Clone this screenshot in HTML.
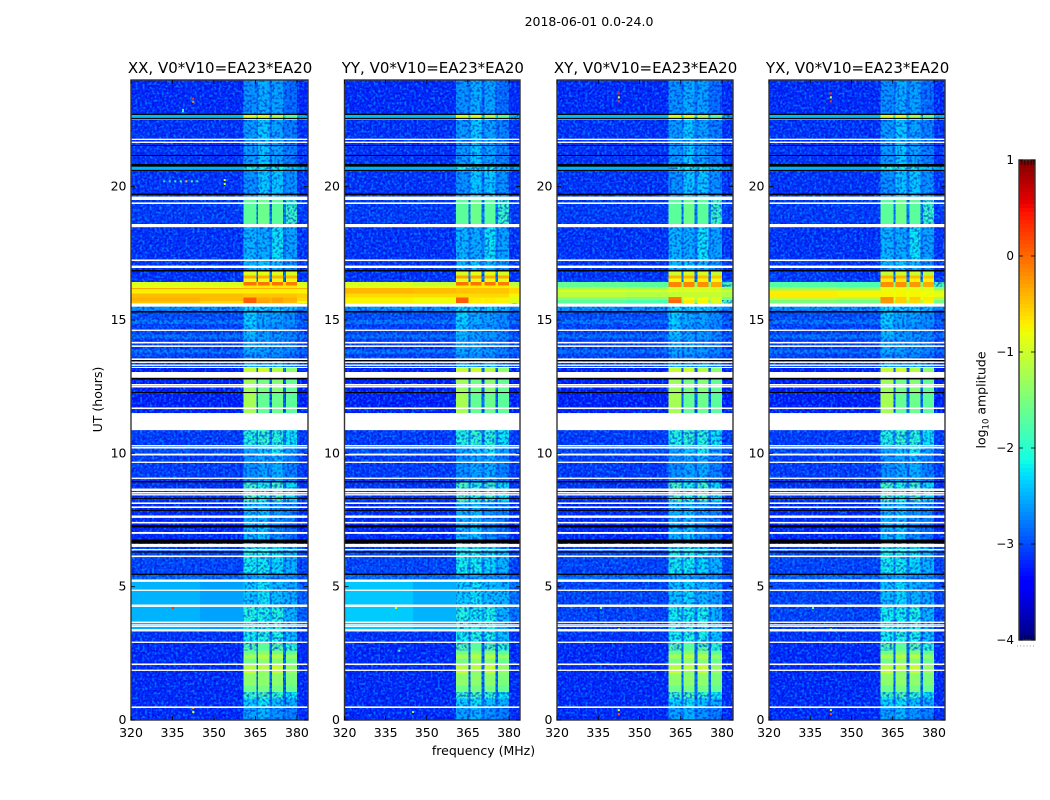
<!DOCTYPE html>
<html lang="en">
<head>
<meta charset="utf-8">
<title>2018-06-01 0.0-24.0</title>
<style>
html,body{margin:0;padding:0;background:#fff;width:1050px;height:800px;overflow:hidden}
svg{display:block}
text{font-family:"DejaVu Sans","Liberation Sans",sans-serif;fill:#000}
</style>
</head>
<body>
<svg id="chart" xmlns="http://www.w3.org/2000/svg" width="1050" height="800" viewBox="0 0 1050 800">
  <defs>
    <filter id="speckle-light" x="0" y="0" width="100%" height="100%" color-interpolation-filters="sRGB">
      <feTurbulence type="fractalNoise" baseFrequency="0.42" numOctaves="1" seed="4"/>
      <feColorMatrix type="matrix" values="0 0 0 0 0  0 0 0 0 0.68  0 0 0 0 1  4.5 0 0 0 -2.1"/>
    </filter>
    <filter id="speckle-dark" x="0" y="0" width="100%" height="100%" color-interpolation-filters="sRGB">
      <feTurbulence type="fractalNoise" baseFrequency="0.4" numOctaves="1" seed="11"/>
      <feColorMatrix type="matrix" values="0 0 0 0 0  0 0 0 0 0  0 0 0 0 0.8  5 0 0 0 -2.3"/>
    </filter>
  </defs>
  <text x="589" y="26" font-size="12.5" text-anchor="middle">2018-06-01 0.0-24.0</text>
  <text x="483.5" y="755" font-size="12.5" text-anchor="middle">frequency (MHz)</text>
  <text x="102" y="399.5" font-size="12.5" text-anchor="middle" transform="rotate(-90 102 399.5)">UT (hours)</text>
  <text x="985.5" y="400" font-size="12.5" text-anchor="middle" transform="rotate(-90 985.5 400)">log<tspan font-size="8.5" dy="3">10</tspan><tspan dy="-3"> amplitude</tspan></text>
  <g id="panels"></g>
  <g id="colorbar"></g>
</svg>
<script>
// Axis extents
const freqDomain = [320, 384];
const hourDomain = [0, 24];
const levelDomain = [-4, 1];

// Tick labels
const freqTicks = [320, 335, 350, 365, 380];
const hourTicks = [0, 5, 10, 15, 20];
const levelTicks = [1, 0, -1, -2, -3, -4];

// Panels
const panelTitles = ["XX, V0*V10=EA23*EA20", "YY, V0*V10=EA23*EA20", "XY, V0*V10=EA23*EA20", "YX, V0*V10=EA23*EA20"];

// Frequency columns in MHz: low-a, mid, band1, gap, band2, gap, band3, gap, band4, high
const columnEdges = [320, 345, 360.6, 365.3, 366, 370, 371, 375, 376, 380, 384];

// Rows common to all polarisations: [startHour, endHour, low, mid, band1, band2, band3, band4, high] in log10 amplitude
const sharedRows = [
  [0,0.5,-3.2,-3.2,-2.55,-2.45,-2.65,-2.75,-3.2],
  [0.5,0.8,-3.2,-3.2,-2.3,-2.2,-2.4,-2.5,-3.2],
  [0.8,1.05,-3.2,-3.2,-1.9,-1.8,-1.95,-2.2,-3.2],
  [1.05,1.3,-3.2,-3.2,-1.6,-1.55,-1.55,-1.65,-3.2],
  [1.3,1.75,-3.2,-3.2,-1.4,-1.4,-1.4,-1.5,-3.2],
  [1.75,1.85,-3.2,-3.2,-1.05,-1.35,-1.1,-1.35,-3.2],
  [1.85,2.1,-3.2,-3.2,-1.15,-1.15,-1.05,-1.35,-3.2],
  [2.1,2.3,-3.2,-3.2,-1.55,-1.4,-1.45,-1.6,-3.2],
  [2.3,2.45,-3.2,-3.2,-1.25,-1.15,-1.15,-1.35,-3.2],
  [2.45,2.6,-3.2,-3.2,-1.6,-1.45,-1.5,-1.7,-3.2],
  [2.6,2.9,-3.2,-3.2,-1.75,-1.7,-1.75,-2,-3.2],
  [2.9,3.4,-3.15,-3.15,-2.15,-2.05,-2.1,-2.4,-3.15],
  [3.4,4.3,-3.05,-3.05,-2.15,-2.15,-2.1,-2.45,-3.05],
  [4.3,5.2,-3.05,-3.05,-2.4,-2.25,-2.45,-2.55,-3.05],
  [5.2,5.5,-2.85,-2.85,-2.6,-2.55,-2.65,-2.7,-2.95],
  [5.5,6.5,-3.05,-3.05,-2.15,-2.15,-2.25,-2.45,-3.05],
  [6.5,7.4,-3.2,-3.2,-2.45,-2.35,-2.65,-2.85,-3.2],
  [7.4,8.2,-3.2,-3.2,-2.5,-2.45,-2.65,-2.75,-3.2],
  [8.2,8.9,-3.15,-3.15,-1.85,-2.1,-1.9,-2.25,-3.15],
  [8.9,9.9,-3.1,-3.1,-2.65,-2.55,-2.5,-2.75,-3.1],
  [9.9,10.3,-3,-3,-2.55,-2.35,-2.15,-2.55,-3],
  [10.3,10.9,-3.1,-3.1,-2.05,-1.95,-2,-2.2,-3.1],
  [10.9,12.3,-3.25,-3.25,-1.25,-1.65,-1.6,-1.7,-3.25],
  [12.3,12.8,-3.25,-3.25,-1.3,-1.55,-1.45,-1.65,-3.25],
  [12.8,13.2,-3.25,-3.25,-1.05,-1,-1.15,-1.4,-3.25],
  [13.2,13.5,-3.05,-3.05,-2.45,-2.55,-2.45,-2.75,-3.05],
  [13.5,13.75,-3.05,-3.05,-2.65,-2.65,-2.7,-2.85,-3.05],
  [13.75,13.9,-2.8,-2.8,-2.5,-2.55,-2.6,-2.7,-2.85],
  [13.9,14.3,-3.1,-3.1,-2.55,-2.6,-2.7,-2.8,-3.1],
  [14.3,14.45,-2.8,-2.8,-2.45,-2.55,-2.6,-2.7,-2.85],
  [14.45,14.85,-3.05,-3.05,-2.4,-2.6,-2.65,-2.75,-3.05],
  [14.85,15,-2.8,-2.8,-2.3,-2.5,-2.55,-2.65,-2.85],
  [15,15.3,-3,-3,-2.3,-2.5,-2.55,-2.7,-3],
  [15.3,15.5,-2.65,-2.65,-2.25,-2.3,-2.3,-2.45,-2.7],
  [16.85,17.2,-3.15,-3.15,-2.45,-2.35,-2.45,-2.65,-3.15],
  [17.2,18.5,-3.15,-3.15,-2.45,-2.5,-2.2,-2.55,-3.15],
  [18.5,19.6,-3.1,-3.1,-1.7,-1.6,-1.7,-1.9,-3.1],
  [19.6,20.6,-3.15,-3.15,-2.65,-2.35,-2.35,-2.65,-3.15],
  [20.6,20.85,-2.5,-2.5,-2.1,-2.15,-2.15,-2.35,-2.5],
  [20.85,22.5,-3.15,-3.15,-2.6,-2.35,-2.55,-2.75,-3.15],
  [22.5,22.75,-2.45,-2.45,-1,-0.95,-1.25,-1.7,-2.45],
  [22.75,24,-3.2,-3.2,-2.65,-2.5,-2.55,-2.85,-3.2]
];

// Rows that differ per polarisation, same layout
const xxRows = [
  [3.4,4.3,-2.5,-2.58,-2.05,-2.1,-2.05,-2.45,-2.9],
  [4.3,5.2,-2.5,-2.58,-2.35,-2.2,-2.4,-2.5,-2.9],
  [15.5,15.64,-1.6,-1.7,-1.5,-1.5,-1.5,-1.6,-1.8],
  [15.64,15.72,-0.5,-0.6,0.05,-0.3,-0.35,-0.45,-0.8],
  [15.72,15.85,-0.4,-0.45,0.05,-0.35,-0.3,-0.4,-0.6],
  [15.85,16,-0.45,-0.45,-0.5,-0.5,-0.5,-0.5,-0.55],
  [16,16.16,-0.72,-0.72,-0.72,-0.7,-0.72,-0.72,-0.75],
  [16.16,16.2,-0.35,-0.35,-0.4,-0.4,-0.4,-0.4,-0.4],
  [16.2,16.3,-0.85,-0.85,-0.7,-0.7,-0.7,-0.7,-0.85],
  [16.3,16.43,-0.9,-0.95,-0.05,-0.05,-0.05,-0.1,-0.95],
  [16.43,16.55,-3.15,-3.15,-0.85,-0.85,-0.85,-0.85,-3.15],
  [16.55,16.67,-3.15,-3.15,-0.35,-0.35,-0.4,-0.4,-3.15],
  [16.67,16.85,-3.15,-3.15,-0.9,-0.85,-0.9,-0.95,-3.15]
];
const yyRows = [
  [3.4,4.3,-2.38,-2.5,-2.05,-2.15,-2.1,-2.45,-2.8],
  [4.3,5.2,-2.4,-2.52,-2.3,-2.2,-2.4,-2.45,-2.8],
  [15.5,15.64,-1.6,-1.7,-1.3,-1.4,-1.4,-1.5,-1.8],
  [15.64,15.85,-0.75,-0.8,0.05,-0.7,-0.7,-0.75,-0.9],
  [15.85,16,-0.6,-0.6,-0.6,-0.6,-0.6,-0.6,-0.75],
  [16,16.2,-0.42,-0.45,-0.5,-0.5,-0.5,-0.5,-0.6],
  [16.2,16.3,-0.88,-0.9,-0.7,-0.7,-0.7,-0.7,-0.95],
  [16.3,16.43,-0.95,-1.05,-0.05,-0.05,-0.05,-0.1,-1.1],
  [16.43,16.55,-3.15,-3.15,-0.9,-0.85,-0.85,-0.9,-3.15],
  [16.55,16.67,-3.15,-3.15,-0.3,-0.3,-0.35,-0.35,-3.15],
  [16.67,16.85,-3.15,-3.15,-0.95,-0.85,-0.85,-0.95,-3.15]
];
const xyRows = [
  [15.5,15.64,-2.1,-2.2,-1.7,-1.7,-1.7,-1.8,-2.2],
  [15.64,15.75,-1.7,-1.8,0,-0.7,-0.75,-0.9,-1.8],
  [15.75,15.86,-1.4,-1.45,-0.1,-0.8,-0.8,-0.95,-1.5],
  [15.86,16.05,-1.1,-1.15,-1.05,-1.05,-1.05,-1.05,-1.2],
  [16.05,16.13,-0.95,-0.95,-0.9,-0.9,-0.9,-0.9,-1],
  [16.13,16.24,-1.25,-1.3,-1,-1,-1,-1,-1.35],
  [16.24,16.43,-1.65,-1.7,-0.15,-0.15,-0.2,-0.35,-1.75],
  [16.43,16.55,-3.1,-3.1,-0.8,-0.75,-0.75,-0.8,-3.1],
  [16.55,16.67,-3.15,-3.15,-0.4,-0.4,-0.45,-0.5,-3.15],
  [16.67,16.85,-3.15,-3.15,-1,-0.95,-0.95,-1.05,-3.15]
];
const yxRows = [
  [15.5,15.62,-2,-2.1,-1.5,-1.5,-1.5,-1.6,-2.1],
  [15.62,15.75,-1.5,-1.55,-0.25,-0.55,-0.6,-0.75,-1.55],
  [15.75,15.86,-1.1,-1.15,-0.2,-0.55,-0.55,-0.7,-1.2],
  [15.86,16.1,-0.7,-0.75,-0.75,-0.75,-0.75,-0.8,-0.85],
  [16.1,16.24,-1.3,-1.35,-0.85,-0.85,-0.85,-0.9,-1.4],
  [16.24,16.43,-1.75,-1.8,-0.2,-0.2,-0.25,-0.35,-1.8],
  [16.43,16.55,-3.1,-3.1,-0.7,-0.7,-0.75,-0.75,-3.1],
  [16.55,16.67,-3.1,-3.15,-0.4,-0.4,-0.45,-0.5,-3.15],
  [16.67,16.85,-3.1,-3.15,-1.05,-1,-1,-1.1,-3.15]
];

// Flagged time ranges (hours) shared by every panel
const whiteFlags = [
  [21.75,21.8],[21.64,21.69],[19.5,19.63],[19.35,19.41],[18.48,18.6],[17.21,17.27],[16.95,17.04],
  [15.5,15.62],[14.59,14.64],[14.12,14.18],[13.99,14.05],[13.5,13.56],[13.39,13.44],[13.28,13.33],
  [13.2,13.24],[12.83,13.05],[12.54,12.6],[12.47,12.53],[11.66,11.72],[10.87,11.51],[10.26,10.31],
  [10.18,10.24],[9.92,9.99],[9.64,9.69],[9.04,9.09],[8.59,8.68],[8.49,8.55],[8.42,8.47],[8.1,8.16],
  [7.95,8.01],[7.58,7.67],[7.37,7.43],[6.98,7.05],[6.49,6.6],[6.36,6.41],[6.11,6.17],[5.18,5.27],
  [4.84,4.89],[4.24,4.33],[3.64,3.69],[3.54,3.59],[3.49,3.53],[3.32,3.41],[2.89,2.94],[2.06,2.12],
  [1.84,1.89],[0.45,0.51]
];
const blackFlags = [
  [22.69,22.74],[22.54,22.58],[21.53,21.56],[21.15,21.19],[20.75,20.85],[20.59,20.63],[19.69,19.74],
  [16.82,16.88],[15.28,15.34],[13.46,13.5],[12.77,12.83],[12.26,12.3],[8.91,8.96],[8.29,8.33],
  [7.84,7.88],[7.22,7.31],[6.64,6.77],[6.28,6.32],[5.44,5.49]
];

// Isolated bright samples per panel: [freqMHz, hour, level]
const xxSpots = [[338.8,22.88,-2],[338.8,22.83,-1.9],[342.5,23.3,0.2],[342.5,23.18,-0.2],[353.9,20.25,-1],[353.9,20.1,-1],[335.2,4.2,0.3],[353.7,3.33,0.2],[342.5,0.3,-0.9],[342.5,0.45,-0.3],[332,20.2,-2.2],[334,20.2,-2.1],[336,20.2,-1.9],[338,20.2,-1.6],[340,20.2,-0.4],[342,20.2,-1.7],[344,20.2,-2.1]];
const yySpots = [[338.8,4.2,-1],[342.5,3.35,-1.4],[340,2.6,-1.6],[345,0.3,-1.4]];
const xySpots = [[342.5,23.5,0.4],[342.5,23.35,-0.9],[342.5,23.2,0.2],[342.5,0.37,-0.9],[342.5,0.22,0.1],[336,4.2,-1.8],[342.5,3.4,-0.9]];
const yxSpots = [[342.5,23.5,0.3],[342.5,23.35,-0.9],[342.5,23.2,0.2],[342.5,0.37,-0.9],[342.5,0.22,0.1],[336,4.2,-1.8],[342.5,3.4,-0.9]];

const panelRows = [xxRows, yyRows, xyRows, yxRows];
const panelSpots = [xxSpots, yySpots, xySpots, yxSpots];
const panelBoxes = [[131,308],[344.5,520],[557,733],[769,945]];
const plotTop = 80, plotBottom = 720;
const colorbarBox = [1019, 1035, 160, 640];
const NS = "http://www.w3.org/2000/svg";

function mk(tag, attrs, parent){
  const n = document.createElementNS(NS, tag);
  for (const k in attrs) n.setAttribute(k, attrs[k]);
  if (parent) parent.appendChild(n);
  return n;
}
function yOfHour(h){ return plotBottom - (h - hourDomain[0]) / (hourDomain[1] - hourDomain[0]) * (plotBottom - plotTop); }
function xOfFreq(f, box){ return box[0] + (f - freqDomain[0]) / (freqDomain[1] - freqDomain[0]) * (box[1] - box[0]); }
function yOfLevel(v){ return colorbarBox[2] + (levelDomain[1] - v) / (levelDomain[1] - levelDomain[0]) * (colorbarBox[3] - colorbarBox[2]); }
function ramp(t, pts){
  for (let i = 1; i < pts.length; i++) {
    if (t <= pts[i][0]) {
      const a = pts[i-1], b = pts[i];
      return a[1] + (b[1]-a[1]) * (t-a[0]) / (b[0]-a[0]);
    }
  }
  return pts[pts.length-1][1];
}
function jet(v){
  const t = Math.max(0, Math.min(1, (v - levelDomain[0]) / (levelDomain[1] - levelDomain[0])));
  const r = ramp(t, [[0,0],[0.35,0],[0.66,1],[0.89,1],[1,0.5]]);
  const g = ramp(t, [[0,0],[0.125,0],[0.375,1],[0.64,1],[0.91,0],[1,0]]);
  const b = ramp(t, [[0,0.5],[0.11,1],[0.34,1],[0.65,0],[1,0]]);
  return "rgb(" + Math.round(r*255) + "," + Math.round(g*255) + "," + Math.round(b*255) + ")";
}
// column index -> index inside a row's value list; -1 marks the narrow gaps between bands
const columnSource = [0, 1, 2, -1, 3, -1, 4, -1, 5, 6];

function drawRows(rows, box, quietLayer, brightLayer){
  rows.forEach(function(row){
    const y0 = yOfHour(row[1]), y1 = yOfHour(row[0]);
    const levels = row.slice(2);
    const bandFloor = Math.min(levels[2], levels[3], levels[4], levels[5]);
    const gapLevel = Math.min(bandFloor, levels[1] + 0.35);
    columnSource.forEach(function(src, c){
      const v = src < 0 ? gapLevel : levels[src];
      const smooth = v > -1.75 || (c < 2 && v > -2.65);
      const layer = smooth ? brightLayer : quietLayer;
      const x0 = xOfFreq(columnEdges[c], box), x1 = xOfFreq(columnEdges[c+1], box);
      const cell = mk("rect", {x:x0, y:y0, width:x1-x0, height:y1-y0, fill:jet(v), "shape-rendering":"crispEdges"}, layer);
      
      
    });
  });
}

const panelsRoot = document.getElementById("panels");
panelBoxes.forEach(function(box, i){
  const w = box[1] - box[0], h = plotBottom - plotTop;
  const g = mk("g", {}, panelsRoot);
  
  

  const quiet = mk("g", {}, g);
  const bright = mk("g", {});
  const bgRect = mk("rect", {x:box[0], y:plotTop, width:w, height:h, fill:jet(-3.15)}, quiet);
  
  
  drawRows(sharedRows, box, quiet, bright);
  drawRows(panelRows[i], box, quiet, bright);

  const light = mk("rect", {x:box[0], y:plotTop, width:w, height:h, filter:"url(#speckle-light)", opacity:0.6}, g);
  
  
  const dark = mk("rect", {x:box[0], y:plotTop, width:w, height:h, filter:"url(#speckle-dark)", opacity:0.5}, g);
  
  
  g.appendChild(bright);

  panelSpots[i].forEach(function(s){
    const spot = mk("rect", {x:xOfFreq(s[0],box)-1, y:yOfHour(s[1])-1, width:2, height:2, fill:jet(s[2])}, g);
    
    
  });
  whiteFlags.forEach(function(f){
    const y0 = yOfHour(f[1]), y1 = yOfHour(f[0]);
    const band = mk("rect", {x:box[0], y:y0, width:w, height:y1-y0, fill:"#fff"}, g);
    
    
  });
  blackFlags.forEach(function(f){
    const y0 = yOfHour(f[1]), y1 = yOfHour(f[0]);
    const band = mk("rect", {x:box[0], y:y0, width:w, height:y1-y0, fill:"#000"}, g);
    
    
  });

  const frame = mk("rect", {x:box[0], y:plotTop, width:w, height:h, fill:"none", stroke:"#333", "stroke-width":1.4}, g);
  
  

  const title = mk("text", {x:(box[0]+box[1])/2+0.6, y:73, "font-size":15, "text-anchor":"middle"}, g);
  
  
  title.textContent = panelTitles[i];

  freqTicks.forEach(function(f){
    const x = xOfFreq(f, box);
    const top = mk("line", {x1:x, x2:x, y1:plotTop, y2:plotTop+4, stroke:"#000", "stroke-width":0.8}, g);
    
    
    const bot = mk("line", {x1:x, x2:x, y1:plotBottom, y2:plotBottom-4, stroke:"#000", "stroke-width":0.8}, g);
    
    
    const label = mk("text", {x:x, y:737, "font-size":12.5, "text-anchor":"middle"}, g);
    
    
    label.textContent = f;
  });
  hourTicks.forEach(function(t){
    const y = yOfHour(t);
    const left = mk("line", {x1:box[0], x2:box[0]+4, y1:y, y2:y, stroke:"#000", "stroke-width":0.8}, g);
    
    
    const right = mk("line", {x1:box[1], x2:box[1]-4, y1:y, y2:y, stroke:"#000", "stroke-width":0.8}, g);
    
    
    const label = mk("text", {x:box[0]-4.5, y:y+4, "font-size":12.5, "text-anchor":"end"}, g);
    
    
    label.textContent = t;
  });
});

// Colorbar
const cb = document.getElementById("colorbar");
const cbSteps = 120;
for (let s = 0; s < cbSteps; s++) {
  const hi = levelDomain[1] - s * (levelDomain[1]-levelDomain[0]) / cbSteps;
  const lo = levelDomain[1] - (s+1) * (levelDomain[1]-levelDomain[0]) / cbSteps;
  const seg = mk("rect", {x:colorbarBox[0], y:yOfLevel(hi), width:colorbarBox[1]-colorbarBox[0], height:yOfLevel(lo)-yOfLevel(hi)+0.5, fill:jet((hi+lo)/2)}, cb);
  
  
}
const cbFrame = mk("rect", {x:colorbarBox[0], y:colorbarBox[2], width:colorbarBox[1]-colorbarBox[0], height:colorbarBox[3]-colorbarBox[2], fill:"none", stroke:"#333", "stroke-width":1.4}, cb);


levelTicks.forEach(function(v){
  const y = yOfLevel(v);
  const l = mk("line", {x1:colorbarBox[0], x2:colorbarBox[0]+4, y1:y, y2:y, stroke:"#000", "stroke-width":0.8}, cb);
  
  
  const r = mk("line", {x1:colorbarBox[1], x2:colorbarBox[1]-4, y1:y, y2:y, stroke:"#000", "stroke-width":0.8}, cb);
  
  
  const label = mk("text", {x:colorbarBox[0]-5, y:y+4, "font-size":12, "text-anchor":"end"}, cb);
  
  
  label.textContent = v < 0 ? "\u2212" + Math.abs(v) : v;
});
[2.8, 5.9, 9, 12.1, 15].forEach(function(dx){
  const t = mk("line", {x1:colorbarBox[0]+dx, x2:colorbarBox[0]+dx, y1:colorbarBox[2], y2:colorbarBox[2]+5, stroke:"#000", "stroke-width":0.7}, cb);
  
  
  const b = mk("line", {x1:colorbarBox[0]+dx, x2:colorbarBox[0]+dx, y1:colorbarBox[3], y2:colorbarBox[3]-5, stroke:"#000", "stroke-width":0.7}, cb);
  
  
});
const dots = mk("line", {x1:1017, x2:1035, y1:646, y2:646, stroke:"#999", "stroke-width":1, "stroke-dasharray":"1 2.2"}, cb);


</script>
</body>
</html>
